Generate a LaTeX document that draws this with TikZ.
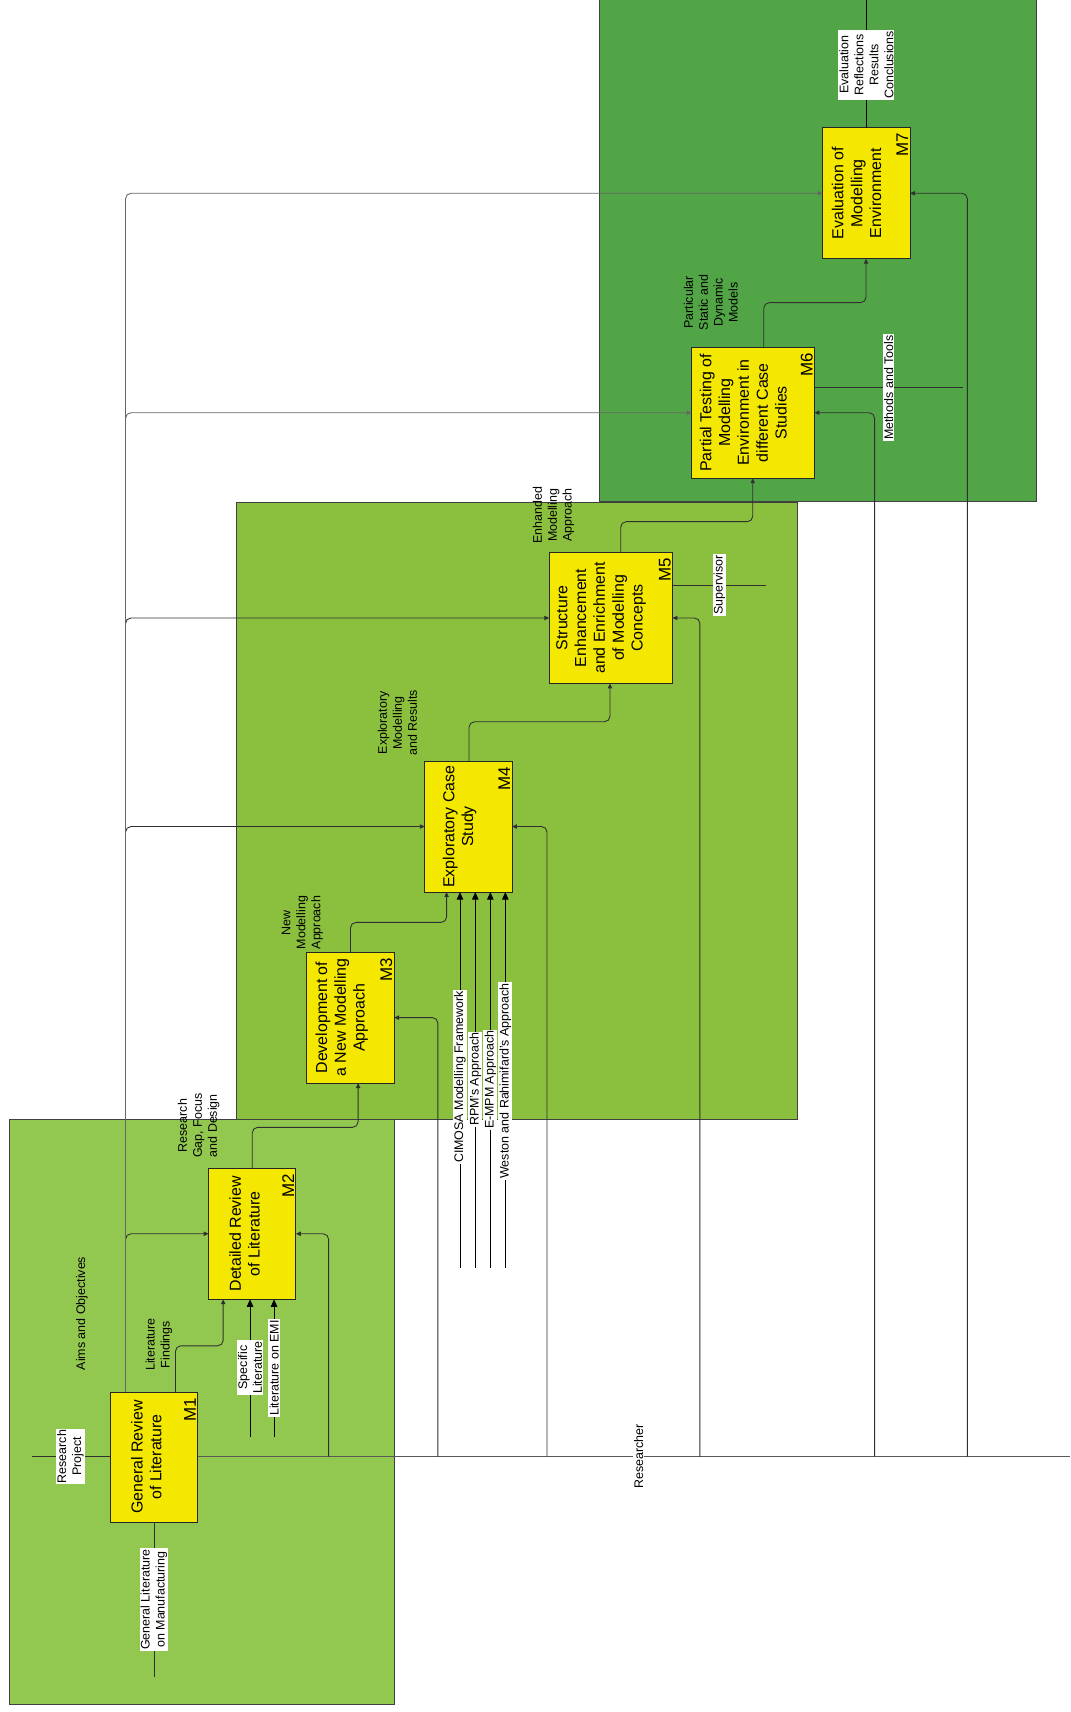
\documentclass[tikz,border=0pt]{standalone}
\usepackage{fontspec}
\setmainfont{Liberation Sans}
\usetikzlibrary{arrows.meta}
\definecolor{panelA}{HTML}{92C850}
\definecolor{panelB}{HTML}{8BC03F}
\definecolor{panelC}{HTML}{52A546}
\definecolor{boxfill}{HTML}{F5E800}
\definecolor{linec}{HTML}{303030}
\newcommand\actfont{\fontsize{14.6}{17.2}\selectfont}
\newcommand\numfont{\fontsize{15.5}{17}\selectfont}
\newcommand\lblfont{\fontsize{11.4}{13.7}\selectfont}
\begin{document}
\begin{tikzpicture}[x=1pt,y=-1pt,
  panel/.style={draw=black!75, line width=0.9pt},
  act/.style={draw=black!85, fill=boxfill, line width=0.9pt, inner sep=0pt, outer sep=0pt, minimum height=120pt},
  acttext/.style={rotate=90, align=center, font=\actfont, inner sep=0pt},
  num/.style={rotate=90, anchor=south east, font=\numfont, inner sep=0pt},
  lbl/.style={rotate=90, align=center, font=\lblfont, inner sep=0pt},
  tag/.style={lbl, fill=white, inner sep=1pt},
  wire/.style={draw=linec, line width=0.8pt},
  flow/.style={wire, rounded corners=5pt, -{Triangle[length=4.5pt,width=4pt]}},
  feed/.style={draw=black, line width=0.8pt, -{Triangle[length=7pt,width=6pt]}}]
\useasboundingbox (0,0) rectangle (980,1568);

% stage panels
\path[panel, fill=panelC] (549,-3) rectangle (949.5,459.5);
\path[panel, fill=panelB] (217,460) rectangle (730,1025);
\path[panel, fill=panelA] (9,1025) rectangle (361,1561);

% activities
\node[act, minimum width=80pt, minimum height=119pt] (M1) at (141,1334.5) {};
\node[act, minimum width=80pt] (M2) at (231,1130) {};
\node[act, minimum width=80pt] (M3) at (321,932) {};
\node[act, minimum width=80pt] (M4) at (429,757) {};
\node[act, minimum width=113pt] (M5) at (559.5,566) {};
\node[act, minimum width=112.5pt] (M6) at (689.75,378) {};
\node[act, minimum width=80pt] (M7) at (793.5,177) {};

\node[acttext] (t1) at ([xshift=-7pt]M1.center) {General Review\\of Literature};
\node[acttext] (t2) at ([xshift=-7pt]M2.center) {Detailed Review\\of Literature};
\node[acttext] (t3) at ([xshift=-8pt]M3.center) {Development of\\a New Modelling\\Approach};
\node[acttext] (t4) at ([xshift=-8pt]M4.center) {Exploratory Case\\Study};
\node[acttext] (t5) at ([xshift=-9pt]M5.center) {Structure\\Enhancement\\and Enrichment\\of Modelling\\Concepts};
\node[acttext] (t6) at ([xshift=-9pt]M6.center) {Partial Testing of\\Modelling\\Environment in\\different Case\\Studies};
\node[acttext] (t7) at ([xshift=-9pt]M7.center) {Evaluation of\\Modelling\\Environment};

\foreach \m in {1,...,7}
  \node[num] (n\m) at ([xshift=-1.5pt,yshift=-5pt]M\m.north east) {M\m};

% control trunk: aims and objectives
\coordinate (cT) at ([xshift=14pt]M1.north west);
\draw[draw=black, line width=1.6pt] (cT) -- (cT |- M4.west);
\draw[draw=black!90, line width=1.2pt] (cT |- M4.west) -- (cT |- M5.west);
\draw[flow] (cT) |- (M2.west);
\draw[flow] (cT) |- (M4.west);
\draw[flow] (cT) |- (M5.west);
\draw[flow, draw=black!60] (cT) |- (M6.west);
\draw[flow, draw=black!60] (cT) |- (M7.west);

% mechanism trunk: researcher
\coordinate (rEnd) at (980,1334);
\draw[wire, draw=black!65, line width=1.1pt] (M1.east |- rEnd) -- (rEnd);
\coordinate (r2) at (301,1334);
\coordinate (r3) at (401,1334);
\coordinate (r4) at (501,1334);
\coordinate (r5) at (641,1334);
\coordinate (r6) at (801,1334);
\coordinate (r7) at (886,1334);
\draw[flow] (r2) |- (M2.east);
\draw[flow] (r3) |- (M3.east);
\draw[flow] (r4) |- (M4.east);
\draw[flow] (r5) |- (M5.east);
\draw[flow] (r6) |- (M6.east);
\draw[flow] (r7) |- (M7.east);

% outputs feeding the next activity
\draw[flow] ([xshift=19.7pt]M1.north) -- ++(0,-42.4) -| ([xshift=-26.6pt]M2.south);
\draw[flow] (M2.north) -- ++(0,-37.5) -| ([xshift=7pt]M3.south);
\draw[flow] (M3.north) -- ++(0,-27.2) -| ([xshift=-20pt]M4.south);
\draw[flow] ([xshift=0.6pt]M4.north) -- ++(0,-36) -| ([xshift=-0.8pt]M5.south);
\draw[flow] ([xshift=9pt]M5.north) -- ++(0,-28.2) -| ([xshift=-0.3pt]M6.south);
\draw[flow] ([xshift=9.8pt]M6.north) -- ++(0,-40.8) -| ([xshift=-0.3pt]M7.south);

% external inputs, controls and mechanisms
\coordinate (rp) at (29,1334);
\draw[wire] (rp) -- (rp -| M1.west);
\coordinate (glm) at (141,1536);
\draw[wire] (glm) -- (glm |- M1.south);
\coordinate (sl) at (229,1316);
\coordinate (emi) at (251,1316);
\draw[feed] (sl) -- (sl |- M2.south);
\draw[feed] (emi) -- (emi |- M2.south);
\coordinate (cim) at (421.3,1161);
\coordinate (rpm) at (435.3,1161);
\coordinate (empm) at (449.1,1161);
\coordinate (wra) at (462.8,1161);
\draw[feed] (cim) -- (cim |- M4.south);
\draw[feed] (rpm) -- (rpm |- M4.south);
\draw[feed] (empm) -- (empm |- M4.south);
\draw[feed] (wra) -- (wra |- M4.south);
\coordinate (sup) at (701.6,536);
\draw[wire] (sup) -- (sup -| M5.east);
\coordinate (mt) at (881.7,355);
\draw[wire] (mt) -- (mt -| M6.east);
\coordinate (ev) at (793.5,-2);
\draw[wire, draw=black] (M7.north) -- (ev);

% labels set on their lines
\node[tag] (lRP) at (64.5,1334) {Research\\Project};
\node[tag] (lGL) at (141,1465) {General Literature\\on Manufacturing};
\node[tag] (lSL) at (229,1252.5) {Specific\\Literature};
\node[tag] (lEMI) at (251,1253) {Literature on EMI};
\node[tag] (lCIM) at (421.3,986.5) {CIMOSA Modelling Framework};
\node[tag] (lRPM) at (435.3,988.5) {RPM's Approach};
\node[tag] (lEMPM) at (449.1,989) {E-MPM Approach};
\node[tag] (lWRA) at (462.8,990) {Weston and Rahimifard's Approach};
\node[tag] (lSup) at (659,536) {Supervisor};
\node[tag] (lMT) at (814,355) {Methods and Tools};
\node[tag] (lEv) at (793.5,59.4) {Evaluation\\Reflections\\Results\\Conclusions};
\node[tag] (lRes) at (585,1334) {Researcher};

% arrow names
\node[lbl] (lAims) at (75,1203) {Aims and Objectives};
\node[lbl] (lLF) at (145.5,1231.5) {Literature\\Findings};
\node[lbl] (lRG) at (182,1031) {Research\\Gap, Focus\\and Design};
\node[lbl] (lNM) at (277,845) {New\\Modelling\\Approach};
\node[lbl] (lEM) at (364,662) {Exploratory\\Modelling\\and Results};
\node[lbl] (lEnh) at (507,472) {Enhanded\\Modelling\\Approach};
\node[lbl] (lPS) at (651,277) {Particular\\Static and\\Dynamic\\Models};
\end{tikzpicture}
\end{document}
